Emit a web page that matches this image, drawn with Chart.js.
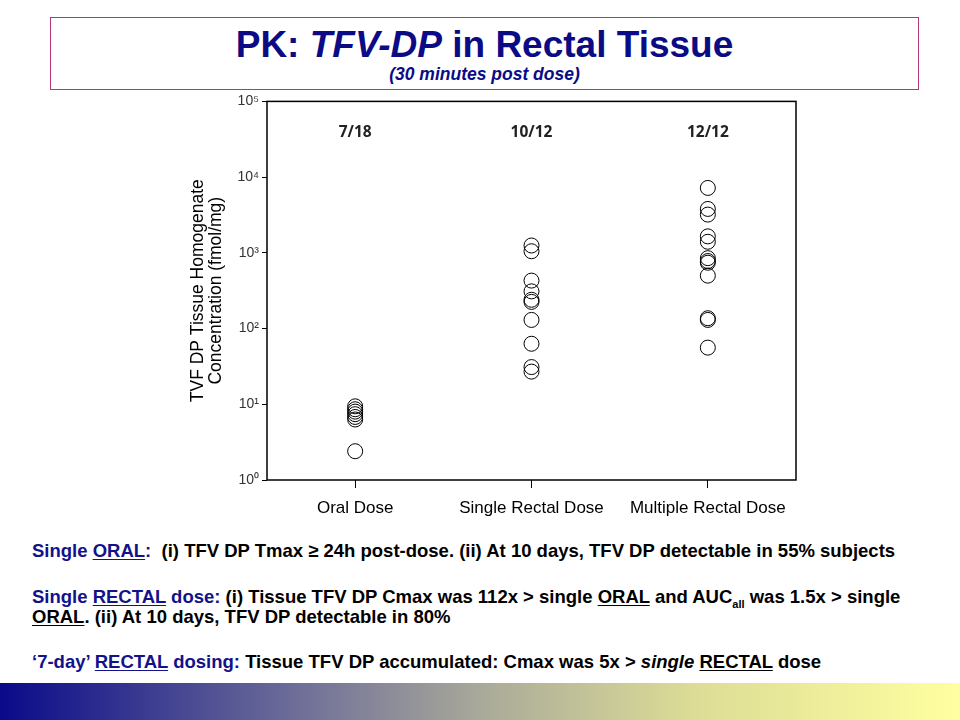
<!DOCTYPE html>
<html>
<head>
<meta charset="utf-8">
<script src="https://cdn.jsdelivr.net/npm/chart.js@4/dist/chart.umd.min.js"></script>
<style>
  body { margin: 0; background: #fff; font-family: "Liberation Sans", Arial, sans-serif; }
  #page { position: relative; width: 960px; height: 720px; overflow: hidden; }
  #titleBox { position: absolute; left: 50px; top: 17px; width: 869px; height: 73px; border: 1px solid #b5367d; box-sizing: border-box; text-align: center; color: #0b0b86; }
  #titleBox .main { font-weight: bold; font-size: 37px; line-height: 38px; margin-top: 8px; }
  #titleBox .sub { font-weight: bold; font-style: italic; font-size: 17.5px; line-height: 20px; }
  #chartWrap { position: absolute; left: 170px; top: 90px; width: 660px; height: 440px; }
  .note { position: absolute; left: 32px; font-weight: bold; font-size: 18.5px; line-height: 20px; color: #000; white-space: nowrap; }
  .note .blue { color: #12128a; }
  .note u { text-underline-offset: 2px; }
  #bar { position: absolute; left: 0; top: 683px; width: 960px; height: 37px;
         background: linear-gradient(to right, #0a0a8a 0%, #6b6b98 30%, #a9a99a 50%, #dcdc96 72%, #ffffa0 100%); }
</style>
</head>
<body>
<div id="page">
  <div id="titleBox">
    <div class="main">PK: <i>TFV-DP</i> in Rectal Tissue</div>
    <div class="sub">(30 minutes post dose)</div>
  </div>
  <div id="chartWrap"><canvas id="myChart"></canvas></div>
  <div class="note" style="top:541px"><span class="blue">Single <u>ORAL</u>:</span>&nbsp; (i) TFV DP Tmax ≥ 24h post-dose. (ii) At 10 days, TFV DP detectable in 55% subjects</div>
  <div class="note" style="top:587px"><span class="blue">Single <u>RECTAL</u> dose:</span> (i) Tissue TFV DP Cmax was 112x &gt; single <u>ORAL</u> and AUC<sub style="font-size:11px">all</sub> was 1.5x &gt; single</div>
  <div class="note" style="top:607px"><u>ORAL</u>. (ii) At 10 days, TFV DP detectable in 80%</div>
  <div class="note" style="top:652px"><span class="blue">‘7-day’ <u>RECTAL</u> dosing:</span> Tissue TFV DP accumulated: Cmax was 5x &gt; <i>single</i> <u>RECTAL</u> dose</div>
  <div id="bar"></div>
</div>
<script>
var categories = ['Oral Dose', 'Single Rectal Dose', 'Multiple Rectal Dose'];
var countLabels = ['7/18', '10/12', '12/12'];

// TFV-DP concentration (fmol/mg), one value per subject with detectable level
var oralDose = [9.4, 8.6, 8.0, 7.4, 6.8, 6.3, 2.4];
var singleRectal = [1250, 1050, 430, 310, 240, 225, 130, 63, 31, 27];
var multipleRectal = [7200, 3800, 3200, 1650, 1400, 850, 780, 740, 500, 137, 130, 56];

var yTicks = [1, 10, 100, 1000, 10000, 100000];
var supers = {'0':'⁰','1':'¹','2':'²','3':'³','4':'⁴','5':'⁵'};

function toPoints(cat, vals) {
  return vals.map(function(v) { return {x: cat, y: v}; });
}

var frame = {
  id: 'frame',
  afterDraw: function(c) {
    var a = c.chartArea, ctx = c.ctx;
    ctx.save();
    ctx.strokeStyle = '#000';
    ctx.lineWidth = 1.5;
    ctx.strokeRect(a.left, a.top, a.right - a.left, a.bottom - a.top);
    // n/N labels above each group
    ctx.fillStyle = '#222';
    ctx.font = 'bold 15.5px "Open Sans", sans-serif';
    ctx.textAlign = 'center';
    ctx.textBaseline = 'middle';
    var ys = c.scales.y.getPixelForValue(39000);
    countLabels.forEach(function(t, i) {
      ctx.fillText(t, c.scales.x.getPixelForValue(i), ys);
    });
    ctx.restore();
  }
};

var pointStyle = {
  pointRadius: 7.5,
  pointHoverRadius: 7.5,
  pointBorderColor: '#000',
  pointBorderWidth: 1,
  pointBackgroundColor: 'rgba(0,0,0,0)'
};

var chart = document.getElementById('myChart');
var myChart = new Chart(chart, {
  type: 'scatter',
  data: {
    labels: categories,
    datasets: [
      Object.assign({ label: categories[0], data: toPoints(categories[0], oralDose) }, pointStyle),
      Object.assign({ label: categories[1], data: toPoints(categories[1], singleRectal) }, pointStyle),
      Object.assign({ label: categories[2], data: toPoints(categories[2], multipleRectal) }, pointStyle)
    ]
  },
  options: {
    responsive: true,
    maintainAspectRatio: false,
    animation: false,
    layout: { padding: { top: 9, right: 34, left: 0, bottom: 0 } },
    plugins: { legend: { display: false }, tooltip: { enabled: false } },
    scales: {
      x: {
        type: 'category',
        labels: categories,
        offset: true,
        border: { display: false },
        grid: { offset: false, drawOnChartArea: false, drawTicks: true, tickLength: 8, color: '#000' },
        ticks: { color: '#000', padding: 10, font: { family: '"Liberation Sans", Arial', size: 17 }, maxRotation: 0 },
        afterFit: function(s) { s.height = 50; }
      },
      y: {
        type: 'logarithmic',
        min: 1,
        max: 100000,
        border: { display: false },
        grid: { drawOnChartArea: false, drawTicks: true, tickLength: 5, color: '#000' },
        afterBuildTicks: function(s) { s.ticks = yTicks.map(function(v) { return {value: v}; }); },
        ticks: {
          color: '#333',
          padding: 3,
          font: { family: '"Liberation Sans", Arial', size: 14 },
          callback: function(v) {
            var e = String(Math.round(Math.log10(v)));
            return '10' + supers[e];
          }
        },
        title: {
          display: true,
          text: ['TVF DP Tissue Homogenate', 'Concentration (fmol/mg)'],
          color: '#000',
          font: { family: '"Liberation Sans", Arial', size: 17.5, lineHeight: 1.05 },
          padding: { top: 19, bottom: 0 }
        },
        afterFit: function(s) { s.width = 97; }
      }
    }
  },
  plugins: [frame]
});
</script>
</body>
</html>
